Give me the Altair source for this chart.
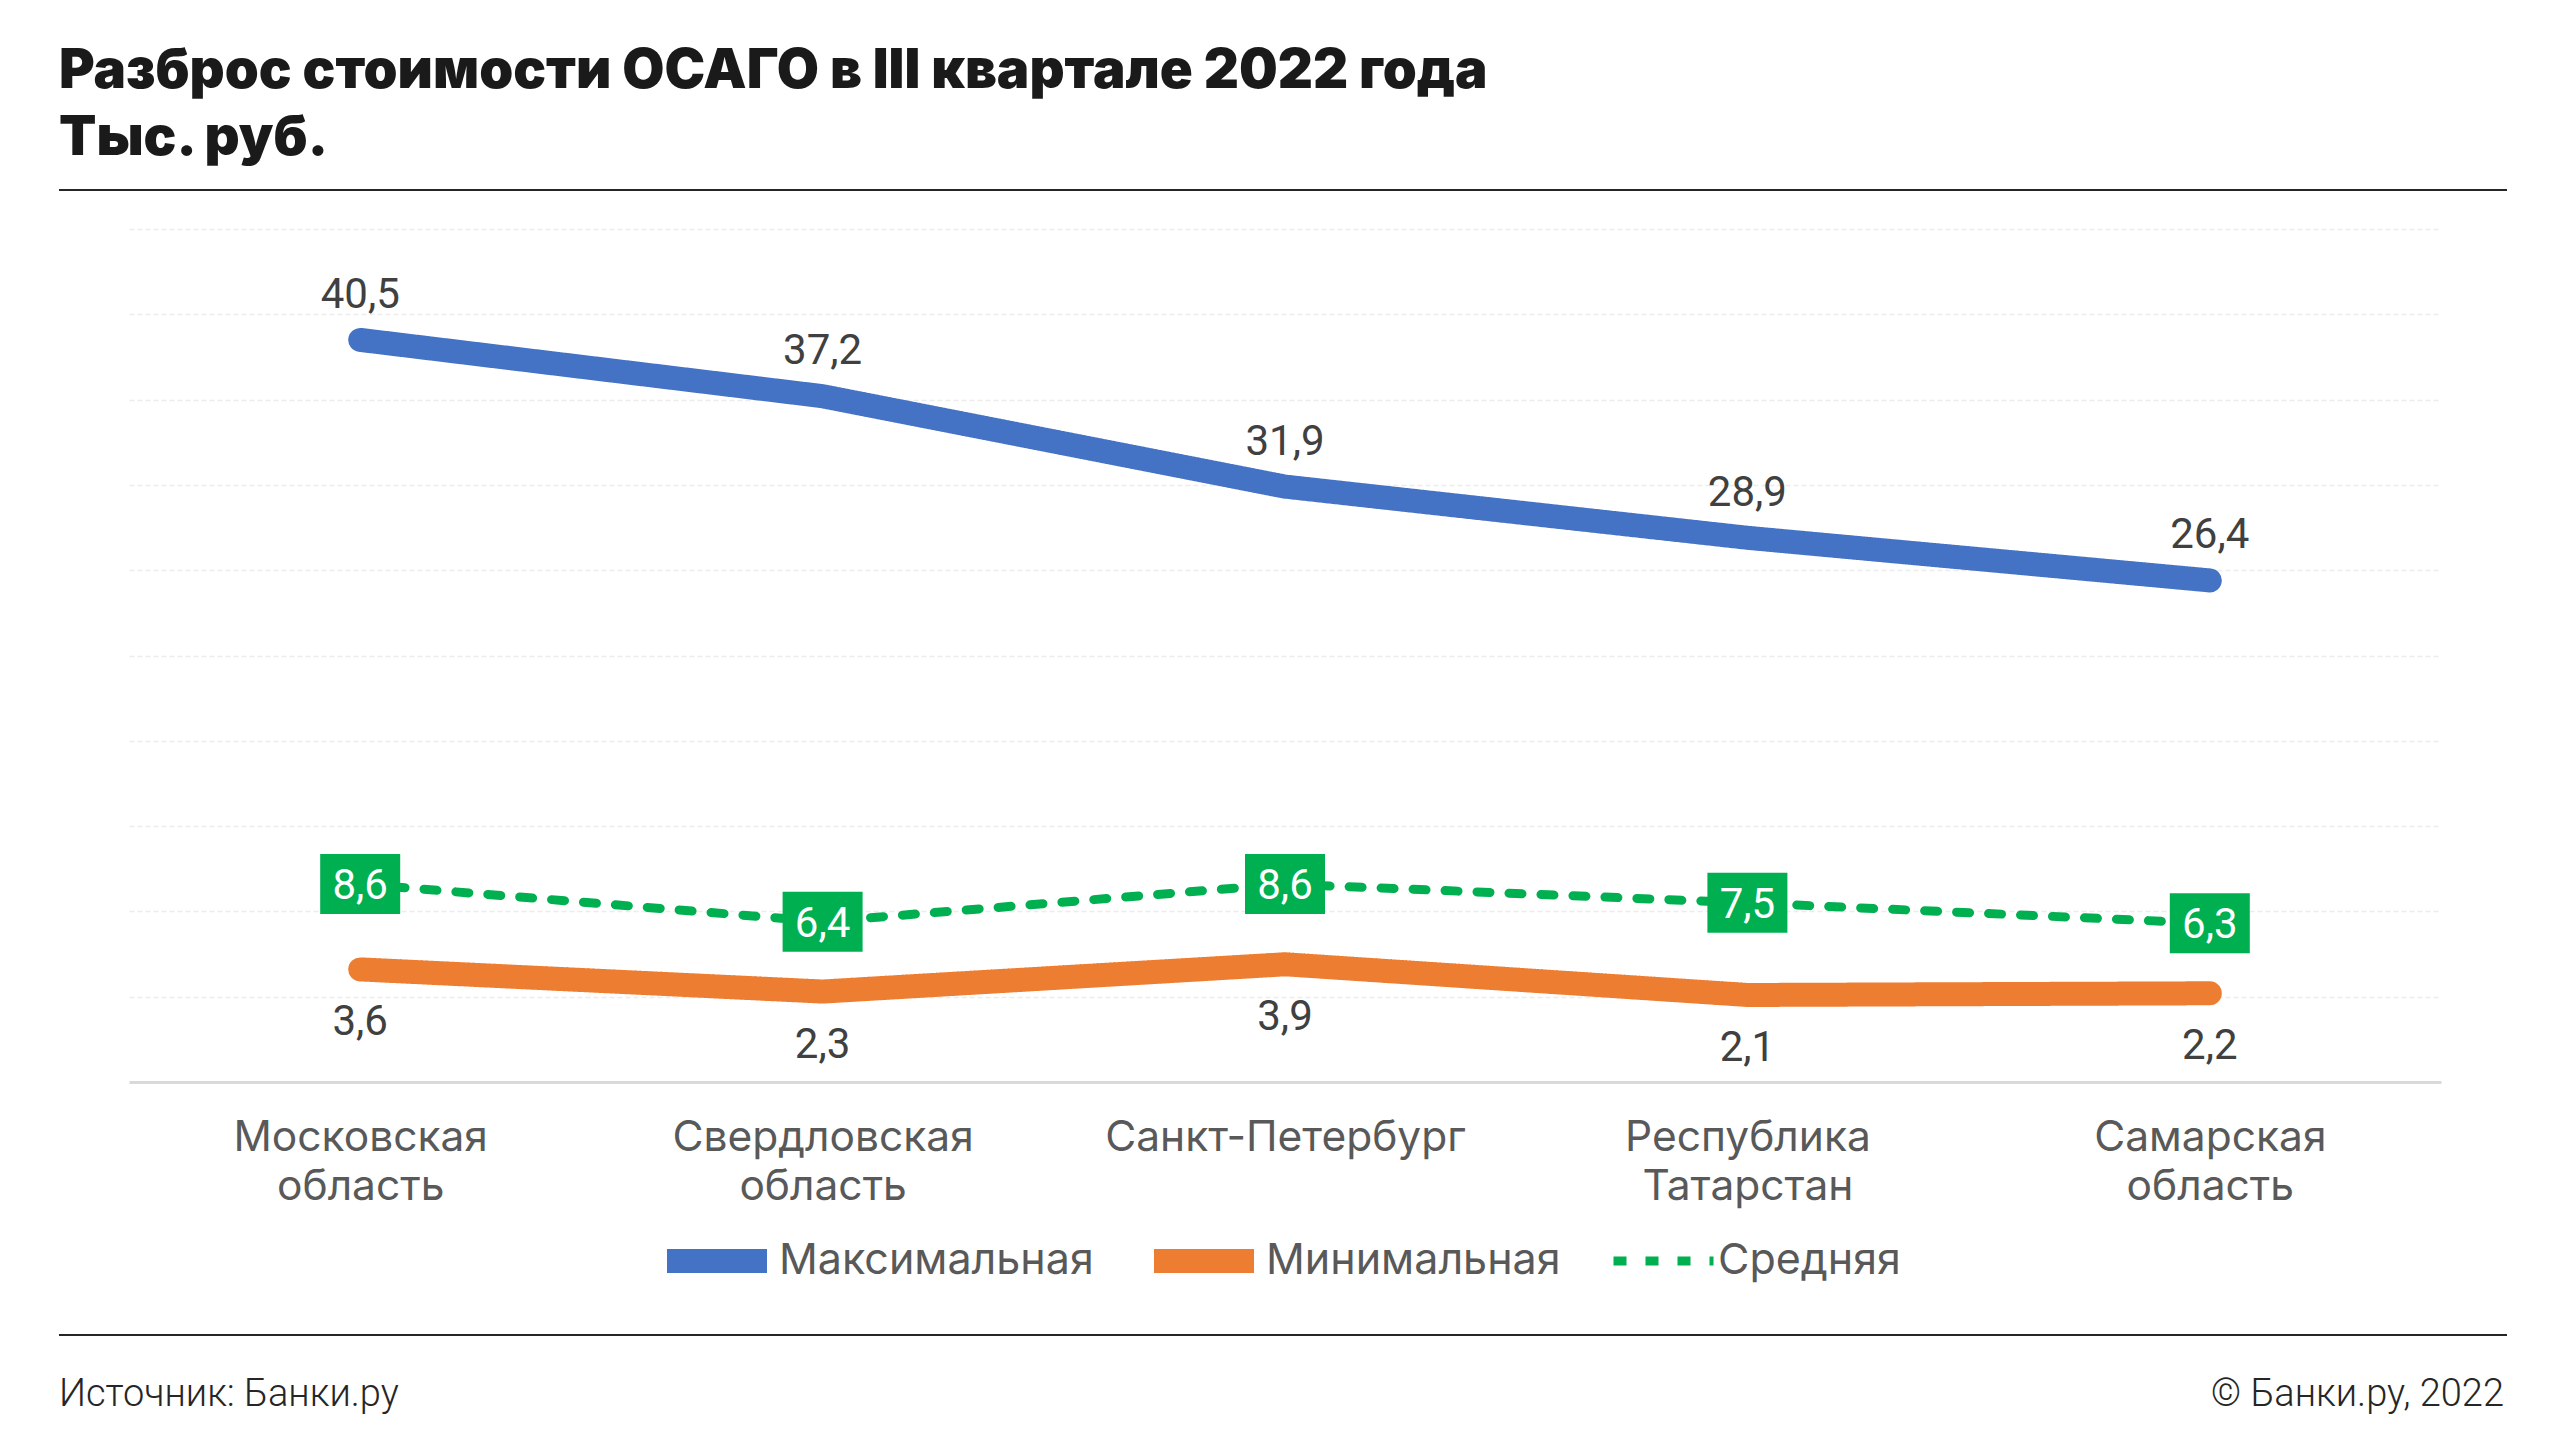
import altair as alt
import pandas as pd

categories = ["Московская область", "Свердловская область", "Санкт-Петербург",
              "Республика Татарстан", "Самарская область"]
series_names = ["Максимальная", "Минимальная", "Средняя"]
max_values = [40.5, 37.2, 31.9, 28.9, 26.4]
min_values = [3.6, 2.3, 3.9, 2.1, 2.2]
avg_values = [8.6, 6.4, 8.6, 7.5, 6.3]
series_colors = ["#4472C4", "#ED7D31", "#00B050"]
grid_values = [2, 7, 12, 17, 22, 27, 32, 37, 42, 47]
title_lines = ["Разброс стоимости ОСАГО в III квартале 2022 года", "Тыс. руб."]
source_text = ["Источник: Банки.ру"]
copyright_text = ["© Банки.ру, 2022"]

rows = []
for name, vals in zip(series_names, [max_values, min_values, avg_values]):
    for c, v in zip(categories, vals):
        rows.append({"region": c, "series": name, "value": v})
df = pd.DataFrame(rows)

W, H = 2312, 853

x_enc = alt.X("region:N", sort=categories,
              scale=alt.Scale(type="point", padding=0.5),
              axis=alt.Axis(title=None, labelExpr="split(datum.label, ' ')",
                            labelFont="Inter", labelFontSize=42.5, labelColor="#595959",
                            labelLineHeight=49, labelBaseline="top", labelPadding=34,
                            labelLimit=1000,
                            ticks=False, tickSize=0, domainColor="#d9d9d9", domainWidth=3,
                            grid=False, labelAngle=0))
y_enc = alt.Y("value:Q", scale=alt.Scale(domain=[-3, 47], nice=False, zero=False),
              axis=alt.Axis(title=None, values=grid_values, labels=False, ticks=False,
                            domain=False, grid=True, gridColor="#ececec",
                            gridDash=[5, 3], gridWidth=1.5))

legend = alt.Legend(title=None, orient="none", legendX=509, legendY=1002,
                    direction="horizontal", symbolType="stroke", symbolSize=10000,
                    clipHeight=60, symbolOffset=17,
                    labelFont="Inter", labelFontSize=43, labelColor="#595959",
                    labelOffset=0, columnPadding=31, labelLimit=1000)

base = alt.Chart(df).transform_calculate(
    label="replace(format(datum.value, '.1f'), '.', ',')")

lines = base.mark_line(strokeCap="round", strokeJoin="round").encode(
    x=x_enc, y=y_enc,
    color=alt.Color("series:N", scale=alt.Scale(domain=series_names, range=series_colors),
                    legend=legend),
    strokeDash=alt.StrokeDash("series:N",
                              scale=alt.Scale(domain=series_names,
                                              range=[[1, 0], [1, 0], [13, 19]]),
                              legend=legend),
    strokeWidth=alt.StrokeWidth("series:N",
                                scale=alt.Scale(type="ordinal", domain=series_names,
                                                range=[24, 24, 9]),
                                legend=legend),
    detail="series:N",
)

max_labels = base.transform_filter(alt.datum.series == series_names[0]).mark_text(
    dy=-45, font="Roboto", fontSize=42, color="#404040", baseline="middle"
).encode(x=x_enc, y=y_enc, text="label:N")

min_labels = base.transform_filter(alt.datum.series == series_names[1]).mark_text(
    dy=53, font="Roboto", fontSize=42, color="#404040", baseline="middle"
).encode(x=x_enc, y=y_enc, text="label:N")

avg_boxes = base.transform_filter(alt.datum.series == series_names[2]).mark_point(
    shape="M-1,-0.75H1V0.75H-1Z", size=6400, filled=True, color="#00B050",
    opacity=1, strokeWidth=0
).encode(x=x_enc, y=y_enc)

avg_labels = base.transform_filter(alt.datum.series == series_names[2]).mark_text(
    font="Roboto", fontSize=42, color="#ffffff", baseline="middle", dy=2
).encode(x=x_enc, y=y_enc, text="label:N")

one = pd.DataFrame({"k": [0]})

title1 = alt.Chart(pd.DataFrame({"t": [title_lines[0]]})).mark_text(
    font="Inter", fontSize=54.5, fontWeight=900, color="#1a1a1a", align="left",
    baseline="alphabetic").encode(x=alt.value(-70), y=alt.value(-141), text="t:N")
title2 = alt.Chart(pd.DataFrame({"t": [title_lines[1]]})).mark_text(
    font="Inter", fontSize=54.5, fontWeight=900, color="#1a1a1a", align="left",
    baseline="alphabetic").encode(x=alt.value(-70), y=alt.value(-74), text="t:N")

top_rule = alt.Chart(one).mark_rule(color="#262626", strokeWidth=2).encode(
    x=alt.value(-70), x2=alt.value(2378), y=alt.value(-39))
bottom_rule = alt.Chart(one).mark_rule(color="#262626", strokeWidth=2).encode(
    x=alt.value(-70), x2=alt.value(2378), y=alt.value(1106))

src = alt.Chart(pd.DataFrame({"t": source_text})).mark_text(
    font="Roboto", fontSize=38, fontWeight=300, color="#262626", align="left",
    baseline="alphabetic").encode(x=alt.value(-70), y=alt.value(1177), text="t:N")
copy = alt.Chart(pd.DataFrame({"t": copyright_text})).mark_text(
    font="Roboto", fontSize=38, fontWeight=300, color="#262626", align="right",
    baseline="alphabetic").encode(x=alt.value(2375), y=alt.value(1177), text="t:N")

chart = alt.layer(
    lines, avg_boxes, avg_labels, max_labels, min_labels,
    title1, title2, top_rule, bottom_rule, src, copy
).properties(
    width=W, height=H,
    autosize=alt.AutoSizeParams(type="none"),
    padding={"left": 121, "top": 221, "right": 120, "bottom": 340},
    view=alt.ViewBackground(stroke="transparent", strokeWidth=0),
).configure_view(strokeWidth=0, stroke="transparent").configure(background="#ffffff")

chart.save("out.html", embed_options={"renderer": "svg", "actions": False})
